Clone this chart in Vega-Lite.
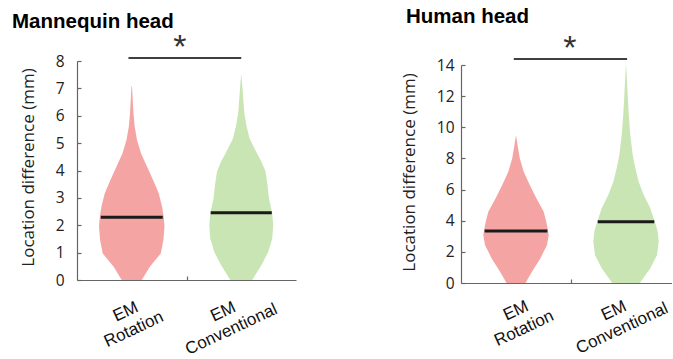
{
  "$schema": "https://vega.github.io/schema/vega-lite/v6.json",
  "background": "white",
  "padding": {"left": 12, "top": 7, "right": 0, "bottom": 0},
  "autosize": {"type": "pad"},
  "bounds": "flush",
  "spacing": 165,
  "config": {
    "view": {"stroke": null},
    "axis": {"grid": false, "domainColor": "#666666", "tickColor": "#666666", "domainWidth": 1.2, "tickWidth": 1.2, "labelFlush": false, "labelOverlap": false},
    "axisY": {"tickSize": -4, "labelFont": "Open Sans", "labelFontSize": 15.5, "labelColor": "#222222", "titleFont": "Open Sans", "titleFontSize": 17, "titleFontWeight": "normal", "titleColor": "#222222", "titleAngle": -90, "titleBaseline": "middle", "titleAlign": "center"},
    "axisX": {"tickSize": -4, "labelFont": "Liberation Sans", "labelFontSize": 17, "labelColor": "#111111", "labelAngle": -25, "labelAlign": "center", "labelBaseline": "top", "labelLineHeight": 19.5},
    "title": {"font": "Liberation Sans", "fontSize": 20.5, "fontWeight": "bold", "color": "#000000", "anchor": "start", "frame": "group", "baseline": "alphabetic"}
  },
  "datasets": {
    "mannequin_violin": [
      {"group": "EM Rotation", "value": 0, "density": 0.091},
      {"group": "EM Rotation", "value": 0.49, "density": 0.167},
      {"group": "EM Rotation", "value": 0.97, "density": 0.265},
      {"group": "EM Rotation", "value": 1.46, "density": 0.289},
      {"group": "EM Rotation", "value": 1.95, "density": 0.299},
      {"group": "EM Rotation", "value": 2.29, "density": 0.292},
      {"group": "EM Rotation", "value": 2.68, "density": 0.277},
      {"group": "EM Rotation", "value": 3.16, "density": 0.247},
      {"group": "EM Rotation", "value": 3.65, "density": 0.195},
      {"group": "EM Rotation", "value": 4.14, "density": 0.14},
      {"group": "EM Rotation", "value": 4.62, "density": 0.085},
      {"group": "EM Rotation", "value": 5.11, "density": 0.048},
      {"group": "EM Rotation", "value": 5.6, "density": 0.027},
      {"group": "EM Rotation", "value": 6.08, "density": 0.016},
      {"group": "EM Rotation", "value": 6.57, "density": 0.009},
      {"group": "EM Rotation", "value": 7.05, "density": 0.003},
      {"group": "EM Rotation", "value": 7.1, "density": 0},
      {"group": "EM Conventional", "value": 0, "density": 0.1},
      {"group": "EM Conventional", "value": 0.55, "density": 0.185},
      {"group": "EM Conventional", "value": 1.03, "density": 0.247},
      {"group": "EM Conventional", "value": 1.52, "density": 0.283},
      {"group": "EM Conventional", "value": 2.0, "density": 0.292},
      {"group": "EM Conventional", "value": 2.46, "density": 0.282},
      {"group": "EM Conventional", "value": 2.98, "density": 0.253},
      {"group": "EM Conventional", "value": 3.47, "density": 0.24},
      {"group": "EM Conventional", "value": 3.95, "density": 0.222},
      {"group": "EM Conventional", "value": 4.32, "density": 0.185},
      {"group": "EM Conventional", "value": 4.68, "density": 0.137},
      {"group": "EM Conventional", "value": 5.17, "density": 0.076},
      {"group": "EM Conventional", "value": 5.66, "density": 0.046},
      {"group": "EM Conventional", "value": 6.14, "density": 0.027},
      {"group": "EM Conventional", "value": 6.63, "density": 0.018},
      {"group": "EM Conventional", "value": 7.12, "density": 0.009},
      {"group": "EM Conventional", "value": 7.54, "density": 0}
    ],
    "mannequin_median": [
      {"group": "EM Rotation", "median": 2.29, "density": 0.283},
      {"group": "EM Conventional", "median": 2.46, "density": 0.279}
    ],
    "human_violin": [
      {"group": "EM Rotation", "value": 0, "density": 0.086},
      {"group": "EM Rotation", "value": 0.73, "density": 0.145},
      {"group": "EM Rotation", "value": 1.58, "density": 0.221},
      {"group": "EM Rotation", "value": 2.44, "density": 0.282},
      {"group": "EM Rotation", "value": 3.08, "density": 0.297},
      {"group": "EM Rotation", "value": 3.34, "density": 0.292},
      {"group": "EM Rotation", "value": 3.94, "density": 0.275},
      {"group": "EM Rotation", "value": 4.58, "density": 0.252},
      {"group": "EM Rotation", "value": 5.44, "density": 0.185},
      {"group": "EM Rotation", "value": 6.29, "density": 0.125},
      {"group": "EM Rotation", "value": 7.15, "density": 0.07},
      {"group": "EM Rotation", "value": 8.01, "density": 0.034},
      {"group": "EM Rotation", "value": 8.86, "density": 0.014},
      {"group": "EM Rotation", "value": 9.5, "density": 0},
      {"group": "EM Conventional", "value": 0, "density": 0.125},
      {"group": "EM Conventional", "value": 0.94, "density": 0.221},
      {"group": "EM Conventional", "value": 1.8, "density": 0.282},
      {"group": "EM Conventional", "value": 2.65, "density": 0.297},
      {"group": "EM Conventional", "value": 3.3, "density": 0.288},
      {"group": "EM Conventional", "value": 3.94, "density": 0.262},
      {"group": "EM Conventional", "value": 4.8, "density": 0.221},
      {"group": "EM Conventional", "value": 5.65, "density": 0.161},
      {"group": "EM Conventional", "value": 6.51, "density": 0.115},
      {"group": "EM Conventional", "value": 7.37, "density": 0.085},
      {"group": "EM Conventional", "value": 8.22, "density": 0.061},
      {"group": "EM Conventional", "value": 9.5, "density": 0.039},
      {"group": "EM Conventional", "value": 10.8, "density": 0.025},
      {"group": "EM Conventional", "value": 12.07, "density": 0.015},
      {"group": "EM Conventional", "value": 13.36, "density": 0.006},
      {"group": "EM Conventional", "value": 14.1, "density": 0}
    ],
    "human_median": [
      {"group": "EM Rotation", "median": 3.34, "density": 0.285},
      {"group": "EM Conventional", "median": 3.94, "density": 0.257}
    ]
  },
  "hconcat": [
    {
      "width": 219,
      "height": 219,
      "title": {"text": "Mannequin head", "dx": -65, "offset": -1.5},
      "layer": [
        {
          "data": {"name": "mannequin_violin"},
          "transform": [
            {"calculate": "datum.group == 'EM Rotation' ? 1 : 2", "as": "pos"},
            {"calculate": "datum.pos - datum.density", "as": "lo"},
            {"calculate": "datum.pos + datum.density", "as": "hi"}
          ],
          "mark": {"type": "area", "orient": "horizontal"},
          "encoding": {
            "y": {"field": "value", "type": "quantitative", "scale": {"domain": [0, 8], "nice": false},
                  "axis": {"title": "Location difference (mm)", "values": [0, 1, 2, 3, 4, 5, 6, 7, 8], "format": "d", "tickCount": 20, "labelOverlap": false, "labelPadding": 17, "titleX": -49, "titleY": 106}},
            "x": {"field": "lo", "type": "quantitative", "stack": null, "scale": {"domain": [0.5, 2.5], "nice": false, "zero": false},
                  "axis": {"title": null, "values": [1, 1.5, 2], "tickCount": 20, "labelOverlap": false, "labelExpr": "datum.value == 1 ? ['EM', 'Rotation'] : datum.value == 2 ? ['EM', 'Conventional'] : ''", "labelPadding": 28, "labelOffset": {"condition": {"test": "datum.value == 2", "value": -22}, "value": -10}}},
            "x2": {"field": "hi"},
            "color": {"field": "group", "type": "nominal", "scale": {"domain": ["EM Rotation", "EM Conventional"], "range": ["#f4a4a2", "#c9e5b4"]}, "legend": null}
          }
        },
        {
          "data": {"name": "mannequin_median"},
          "transform": [
            {"calculate": "datum.group == 'EM Rotation' ? 1 : 2", "as": "pos"},
            {"calculate": "datum.pos - datum.density", "as": "lo"},
            {"calculate": "datum.pos + datum.density", "as": "hi"}
          ],
          "mark": {"type": "rule", "color": "#1a1a1a", "strokeWidth": 3},
          "encoding": {
            "y": {"field": "median", "type": "quantitative"},
            "x": {"field": "lo", "type": "quantitative"},
            "x2": {"field": "hi"}
          }
        },
        {
          "data": {"values": [{}]},
          "mark": {"type": "rule", "color": "#404040", "strokeWidth": 2},
          "encoding": {
            "x": {"datum": 0.97, "type": "quantitative"},
            "x2": {"datum": 2.0},
            "y": {"datum": 8.11, "type": "quantitative"}
          }
        },
        {
          "data": {"values": [{}]},
          "mark": {"type": "text", "text": "*", "font": "Liberation Sans", "fontSize": 34, "color": "#333333", "baseline": "middle", "dy": 10},
          "encoding": {
            "x": {"datum": 1.44, "type": "quantitative"},
            "y": {"datum": 8.84, "type": "quantitative"}
          }
        }
      ]
    },
    {
      "width": 211,
      "height": 222,
      "title": {"text": "Human head", "dx": -55, "offset": 4},
      "layer": [
        {
          "data": {"name": "human_violin"},
          "transform": [
            {"calculate": "datum.group == 'EM Rotation' ? 1 : 2", "as": "pos"},
            {"calculate": "datum.pos - datum.density", "as": "lo"},
            {"calculate": "datum.pos + datum.density", "as": "hi"}
          ],
          "mark": {"type": "area", "orient": "horizontal"},
          "encoding": {
            "y": {"field": "value", "type": "quantitative", "scale": {"domain": [0, 14], "nice": false, "range": [222, 4]},
                  "axis": {"title": "Location difference (mm)", "values": [0, 2, 4, 6, 8, 10, 12, 14], "format": "d", "tickCount": 20, "labelOverlap": false, "labelPadding": 11, "titleX": -52, "titleY": 111}},
            "x": {"field": "lo", "type": "quantitative", "stack": null, "scale": {"domain": [0.5, 2.418], "nice": false, "zero": false},
                  "axis": {"title": null, "values": [1, 1.5, 2], "tickCount": 20, "labelOverlap": false, "labelExpr": "datum.value == 1 ? ['EM', 'Rotation'] : datum.value == 2 ? ['EM', 'Conventional'] : ''", "labelPadding": 24, "labelOffset": {"condition": {"test": "datum.value == 2", "value": -16}, "value": -4}}},
            "x2": {"field": "hi"},
            "color": {"field": "group", "type": "nominal", "scale": {"domain": ["EM Rotation", "EM Conventional"], "range": ["#f4a4a2", "#c9e5b4"]}, "legend": null}
          }
        },
        {
          "data": {"name": "human_median"},
          "transform": [
            {"calculate": "datum.group == 'EM Rotation' ? 1 : 2", "as": "pos"},
            {"calculate": "datum.pos - datum.density", "as": "lo"},
            {"calculate": "datum.pos + datum.density", "as": "hi"}
          ],
          "mark": {"type": "rule", "color": "#1a1a1a", "strokeWidth": 3},
          "encoding": {
            "y": {"field": "median", "type": "quantitative"},
            "x": {"field": "lo", "type": "quantitative"},
            "x2": {"field": "hi"}
          }
        },
        {
          "data": {"values": [{}]},
          "mark": {"type": "rule", "color": "#404040", "strokeWidth": 2},
          "encoding": {
            "x": {"datum": 0.98, "type": "quantitative"},
            "x2": {"datum": 2.01},
            "y": {"datum": 14.38, "type": "quantitative"}
          }
        },
        {
          "data": {"values": [{}]},
          "mark": {"type": "text", "text": "*", "font": "Liberation Sans", "fontSize": 34, "color": "#333333", "baseline": "middle", "dy": 10},
          "encoding": {
            "x": {"datum": 1.49, "type": "quantitative"},
            "y": {"datum": 15.69, "type": "quantitative"}
          }
        }
      ]
    }
  ]
}
